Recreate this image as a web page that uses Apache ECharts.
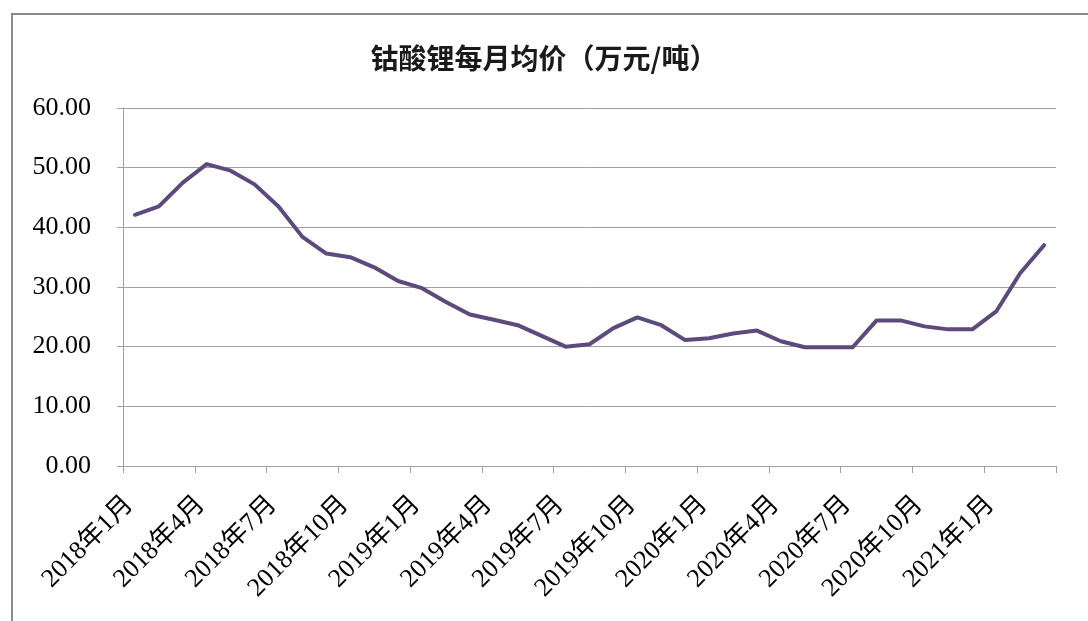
<!DOCTYPE html>
<html lang="zh-CN">
<head>
    <meta charset="UTF-8">
    <title>钴酸锂每月均价</title>
    <script src="https://cdn.jsdelivr.net/npm/echarts@6.0.0/dist/echarts.min.js"></script>
    <style>
        html, body { margin: 0; padding: 0; background: #fff; }
        #main { width: 1088px; height: 621px; }
    </style>
</head>
<body>
    <div id="main"></div>
    <script type="text/javascript">
        // 月份：2018年1月 ~ 2021年3月
        const months = [
            '2018年1月', '2018年2月', '2018年3月', '2018年4月', '2018年5月', '2018年6月',
            '2018年7月', '2018年8月', '2018年9月', '2018年10月', '2018年11月', '2018年12月',
            '2019年1月', '2019年2月', '2019年3月', '2019年4月', '2019年5月', '2019年6月',
            '2019年7月', '2019年8月', '2019年9月', '2019年10月', '2019年11月', '2019年12月',
            '2020年1月', '2020年2月', '2020年3月', '2020年4月', '2020年5月', '2020年6月',
            '2020年7月', '2020年8月', '2020年9月', '2020年10月', '2020年11月', '2020年12月',
            '2021年1月', '2021年2月', '2021年3月'
        ];
        // 钴酸锂每月均价（万元/吨）
        const prices = [
            42.1, 43.5, 47.5, 50.6, 49.5, 47.2,
            43.5, 38.4, 35.6, 35.0, 33.3, 31.0,
            29.8, 27.5, 25.4, 24.5, 23.6, 21.8,
            20.0, 20.4, 23.1, 24.9, 23.6, 21.1,
            21.4, 22.2, 22.7, 20.9, 19.9, 19.9,
            19.9, 24.4, 24.4, 23.4, 22.9, 22.9,
            25.9, 32.3, 37.0
        ];
        const chartTitle = '钴酸锂每月均价（万元/吨）';

        var myChart = echarts.init(document.getElementById('main'));

        var serif = '"Liberation Serif", "Noto Sans CJK SC", serif';

        var option = {
            backgroundColor: '#ffffff',
            animation: false,
            title: {
                text: chartTitle,
                left: 'center',
                top: 39,
                textStyle: {
                    fontFamily: '"Noto Sans CJK SC", sans-serif',
                    fontSize: 28,
                    fontWeight: 'bold',
                    color: '#1a1a1a'
                }
            },
            graphic: [{
                // 外边框
                type: 'rect',
                shape: { x: 12, y: 14, width: 1100, height: 700 },
                style: { fill: 'none', stroke: '#8c8c8c', lineWidth: 2 },
                silent: true
            }],
            grid: {
                left: 123,
                right: 32,
                top: 108,
                bottom: 155
            },
            xAxis: {
                type: 'category',
                data: months,
                boundaryGap: true,
                axisLine: { lineStyle: { color: '#a0a0a0', width: 1 } },
                axisTick: {
                    show: true,
                    interval: 2,
                    length: 7,
                    lineStyle: { color: '#a0a0a0' }
                },
                axisLabel: {
                    interval: 2,
                    rotate: 45,
                    margin: 29,
                    padding: [0, 8, 0, 0],
                    fontFamily: serif,
                    fontSize: 26,
                    color: '#000'
                }
            },
            yAxis: {
                type: 'value',
                min: 0,
                max: 60,
                interval: 10,
                axisLine: { show: true, lineStyle: { color: '#a0a0a0', width: 1 } },
                axisTick: { show: true, length: 6, lineStyle: { color: '#a0a0a0' } },
                axisLabel: {
                    formatter: function (v) { return v.toFixed(2); },
                    margin: 32,
                    fontFamily: serif,
                    fontSize: 26,
                    color: '#000'
                },
                splitLine: { show: true, lineStyle: { color: '#a0a0a0', width: 1 } }
            },
            series: [{
                name: '钴酸锂',
                type: 'line',
                data: prices,
                symbol: 'none',
                lineStyle: { color: '#5d4a7d', width: 4, join: 'round', cap: 'round' },
                itemStyle: { color: '#5d4a7d' }
            }]
        };

        myChart.setOption(option);
    </script>
</body>
</html>
